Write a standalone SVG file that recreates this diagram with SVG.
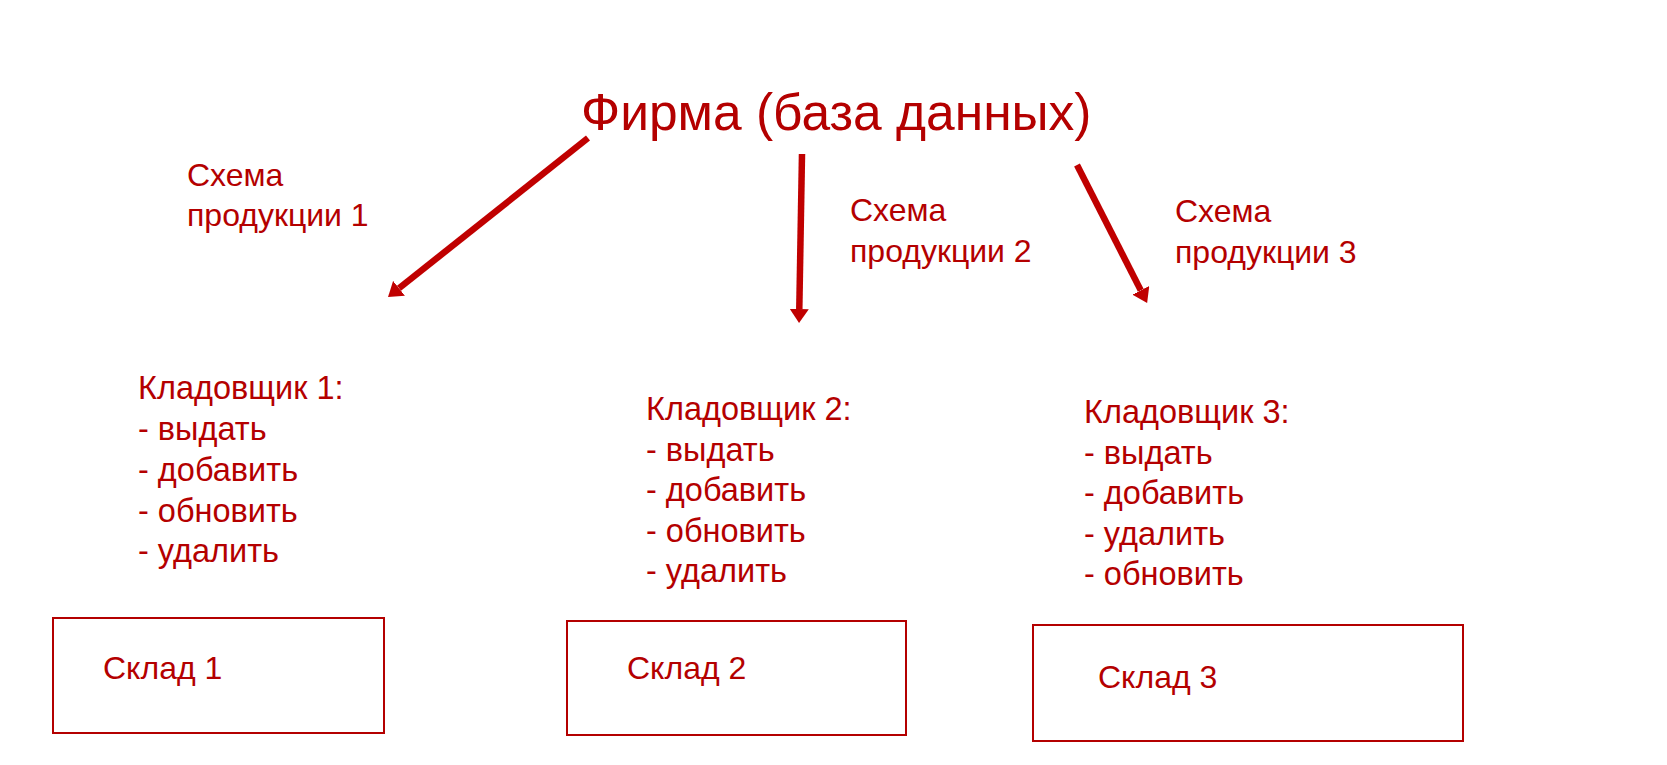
<svg xmlns="http://www.w3.org/2000/svg" width="1667" height="765" viewBox="0 0 1667 765">
<defs>
<style>
.t{font-family:"Liberation Sans",Arial,sans-serif;fill:#B40000;}
.title{font-size:51.5px;}
.lbl{font-size:32px;}
.kp{font-size:32.5px;}
.box{fill:#fff;stroke:#B40000;stroke-width:2;}
.arr{stroke:#C00000;stroke-width:6.5;fill:none;}
</style>
<marker id="ah" viewBox="0 0 14 19" refX="0" refY="9.5" markerWidth="14" markerHeight="19" markerUnits="userSpaceOnUse" orient="auto">
<path d="M0,0 L14,9.5 L0,19 z" fill="#C00000"/>
</marker>
</defs>
<rect width="1667" height="765" fill="#fff"/>
<g id="firm"><text class="t title" x="581" y="130">Фирма (база данных)</text></g>
<g id="connectors">
<line class="arr" x1="588" y1="138" x2="399" y2="288.3" marker-end="url(#ah)"/>
<line class="arr" x1="802" y1="154" x2="799.3" y2="309" marker-end="url(#ah)"/>
<line class="arr" x1="1077" y1="165" x2="1140.8" y2="290.4" marker-end="url(#ah)"/>
</g>
<g id="label1"><text class="t lbl" x="187" y="186">Схема</text><text class="t lbl" x="187" y="226">продукции 1</text></g>
<g id="label2"><text class="t lbl" x="850" y="221">Схема</text><text class="t lbl" x="850" y="262">продукции 2</text></g>
<g id="label3"><text class="t lbl" x="1175" y="222">Схема</text><text class="t lbl" x="1175" y="263">продукции 3</text></g>
<g id="keeper1">
<text class="t kp" x="138" y="399">Кладовщик 1:</text>
<text class="t kp" x="138" y="440">- выдать</text>
<text class="t kp" x="138" y="481">- добавить</text>
<text class="t kp" x="138" y="522">- обновить</text>
<text class="t kp" x="138" y="562">- удалить</text>
</g>
<g id="keeper2">
<text class="t kp" x="646" y="420">Кладовщик 2:</text>
<text class="t kp" x="646" y="461">- выдать</text>
<text class="t kp" x="646" y="501">- добавить</text>
<text class="t kp" x="646" y="542">- обновить</text>
<text class="t kp" x="646" y="582">- удалить</text>
</g>
<g id="keeper3">
<text class="t kp" x="1084" y="423">Кладовщик 3:</text>
<text class="t kp" x="1084" y="464">- выдать</text>
<text class="t kp" x="1084" y="504">- добавить</text>
<text class="t kp" x="1084" y="545">- удалить</text>
<text class="t kp" x="1084" y="585">- обновить</text>
</g>
<g id="store1"><rect class="box" x="53" y="618" width="331" height="115"/><text class="t lbl" x="103" y="679">Склад 1</text></g>
<g id="store2"><rect class="box" x="567" y="621" width="339" height="114"/><text class="t lbl" x="627" y="679">Склад 2</text></g>
<g id="store3"><rect class="box" x="1033" y="625" width="430" height="116"/><text class="t lbl" x="1098" y="688">Склад 3</text></g>
</svg>
